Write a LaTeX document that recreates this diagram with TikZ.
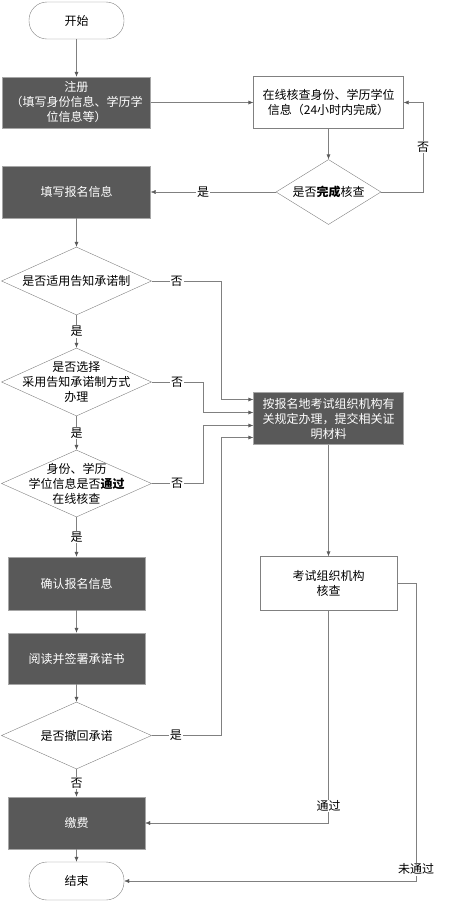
\documentclass[tikz,border=0pt]{standalone}
\usepackage{fontspec}
\setmainfont{Noto Sans CJK SC}
\usetikzlibrary{positioning,shapes.geometric,arrows.meta}
\definecolor{darkbox}{HTML}{595959}
\definecolor{linegray}{HTML}{808080}
\tikzset{
  term/.style={draw=linegray,rounded corners=18pt,minimum width=95pt,minimum height=37pt},
  darkstep/.style={draw=gray!70,fill=darkbox,text=white,align=center,minimum width=148pt,minimum height=52pt,inner sep=2pt},
  whitestep/.style={draw=linegray,fill=white,align=center,minimum width=150pt,minimum height=52pt,inner sep=2pt},
  decision/.style={diamond,draw=linegray,minimum width=150pt,minimum height=68pt,inner sep=0pt},
  dectext/.style={align=center},
  lbl/.style={fill=white,inner sep=1pt},
  flow/.style={draw=linegray,->},
}
\begin{document}
\begin{tikzpicture}[on grid,node distance=90pt,>={Latex[length=5pt,width=4pt,color=darkbox]},font=\fontsize{12}{15}\selectfont]
    \useasboundingbox (0,0) rectangle (458pt,-903pt);
    \node[term] (start) at (76.5pt,-20.5pt) {开始};
    \node[darkstep,minimum height=51pt,below=82pt of start] (reg) {注册\\（填写身份信息、学历学\\位信息等）};
    \node[whitestep,right=252pt of reg] (check) {在线核查身份、学历学位\\信息（24小时内完成）};
    \node[decision,minimum width=105pt,minimum height=65pt,below=89.5pt of check,
          label={[dectext]center:是否\textbf{完成}核查}] (done) {};
    \node[darkstep,below=89.5pt of reg] (fill) {填写报名信息};
    \node[decision,below=89pt of fill,label={[dectext]center:是否适用告知承诺制}] (d1) {};
    \node[decision,below=101pt of d1,label={[dectext]center:是否选择\\采用告知承诺制方式\\办理}] (d2) {};
    \node[decision,minimum height=67pt,below=101.5pt of d2,label={[dectext]center:身份、学历\\学位信息是否\textbf{通过}\\在线核查}] (d3) {};
    \node[darkstep,minimum width=137pt,minimum height=53pt,below=100pt of d3] (confirm) {确认报名信息};
    \node[darkstep,minimum width=137pt,minimum height=51pt,below=75pt of confirm] (read) {阅读并签署承诺书};
    \node[decision,minimum height=67pt,below=77pt of read,label={[dectext]center:是否撤回承诺}] (d4) {};
    \node[darkstep,minimum width=137pt,below=87.5pt of d4] (pay) {缴费};
    \node[term,minimum height=38pt,below=58pt of pay] (end) {结束};
    \node[darkstep,minimum width=150pt,below=226.5pt of done] (local) {按报名地考试组织机构有\\关规定办理，提交相关证\\明材料};
    \node[whitestep,minimum width=137pt,minimum height=54pt,below=165pt of local] (org) {考试组织机构\\核查};

    \draw[flow] (start) -- (reg);
    \draw[flow] (reg) -- (check);
    \draw[flow] (check) -- (done);
    \draw[flow] (done.east) -- ++(42pt,0) |- node[lbl,pos=.25] {否} (check.east);
    \draw[flow] (done.west) -- node[lbl,pos=.58] {是} (fill.east);
    \draw[flow] (fill) -- (d1);
    \draw[flow] (d1) -- node[lbl] {是} (d2);
    \draw[flow] (d2) -- node[lbl] {是} (d3);
    \draw[flow] (d3) -- node[lbl] {是} (confirm);
    \draw[flow] (confirm) -- (read);
    \draw[flow] (read) -- (d4);
    \draw[flow] (d4) -- node[lbl] {否} (pay);
    \draw[flow] (pay) -- (end);
    \draw[flow] (d1.east) -- node[lbl,pos=.36] {否} ++(69pt,0) |- ([yshift=19pt]local.west);
    \draw[flow] (d2.east) -- node[lbl,pos=.5] {否} ++(51pt,0) |- ([yshift=6pt]local.west);
    \draw[flow] (d3.east) -- node[lbl,pos=.5] {否} ++(51pt,0) |- ([yshift=-7pt]local.west);
    \draw[flow] (d4.east) -- node[lbl,pos=.35] {是} ++(69pt,0) |- ([yshift=-19pt]local.west);
    \draw[flow] (local) -- (org);
    \draw[flow] (org.south) |- node[lbl,pos=.46] {通过} (pay.east);
    \draw[flow] (org.east) -- ++(19pt,0) |- node[lbl,pos=.48] {未通过} (end.east);
\end{tikzpicture}
\end{document}
